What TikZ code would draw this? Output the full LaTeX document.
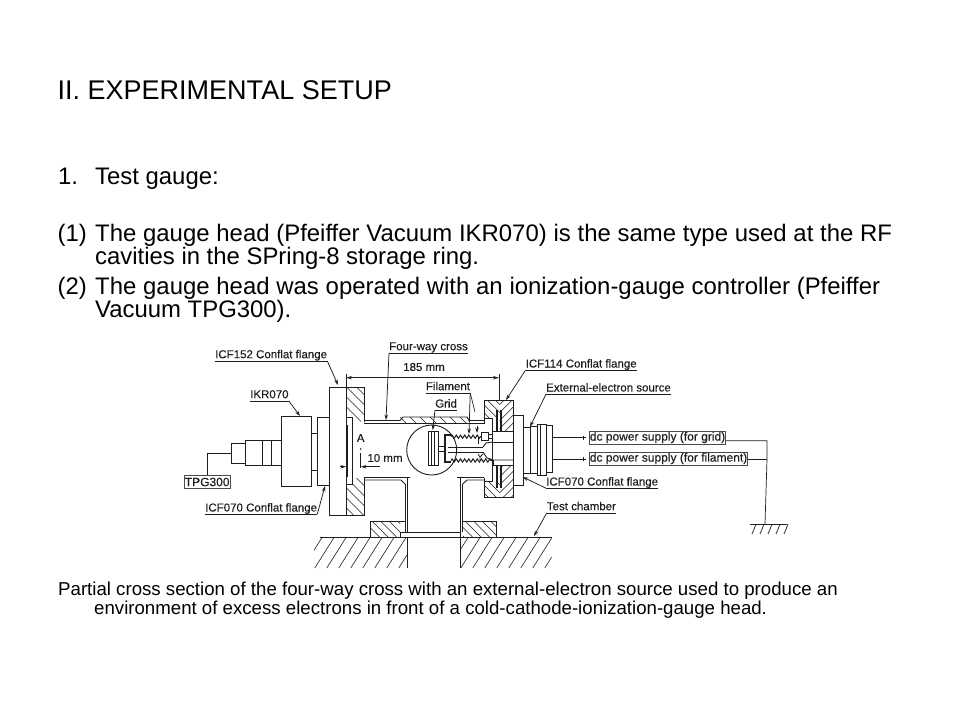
\documentclass[tikz,border=0pt]{standalone}
\usepackage{fontspec}
\setmainfont{Liberation Sans}
\newfontfamily\lblfont{Liberation Sans}[FakeBold=0.25]
\usetikzlibrary{decorations.pathmorphing,arrows.meta}
\definecolor{ink}{HTML}{1E1E1E}
% x1 y1 x2 y2 slope step
\newcommand{\hatchbox}[6]{%
  \begin{scope}\clip (#1,#2) rectangle (#3,#4);
  \foreach \k in {0,...,40} \draw[hline] ({#1-100+\k*#6},#2) -- ({#1-100+\k*#6+#5*(#4-#2)},#4);
  \end{scope}}
\tikzset{
  txt/.style={anchor=base west,inner sep=0pt,text=black},
  title/.style={txt,font=\fontsize{27}{30}\selectfont},
  body/.style={txt,font=\fontsize{23.9}{27}\selectfont},
  capt/.style={txt,font=\fontsize{18.65}{21}\selectfont},
  lbl/.style={anchor=base west,inner xsep=0pt,inner ysep=0pt,text depth=2.5pt,text=ink,font=\lblfont\fontsize{11.5}{13}\selectfont},
  plain/.style={anchor=center,inner sep=0pt,text=ink,font=\lblfont\fontsize{11.5}{13}\selectfont},
  sbox/.style={draw=ink!80,line width=.7pt,anchor=west,inner xsep=0.5pt,inner ysep=0pt,minimum height=13.3pt,text=ink,font=\lblfont\fontsize{12}{14}\selectfont},
  part/.style={draw=ink,line width=.9pt},
  hline/.style={draw=ink,line width=.6pt},
  uline/.style={draw=ink,line width=.8pt},
  leader/.style={draw=ink,line width=.75pt,-{Stealth[length=5.5pt,width=3.5pt]}},
  wire/.style={draw=ink,line width=.7pt},
}
\begin{document}
\begin{tikzpicture}[x=1pt,y=-1pt]
\useasboundingbox (0,0) rectangle (960,720);
\fill[white] (0,0) rectangle (960,720);
% ---- slide text
\node[title] (ttl) at (57.5,99) {II. EXPERIMENTAL SETUP};
\node[body] (t1n) at (58,184) {1.};
\node[body] (t1) at (95,184) {Test gauge:};
\node[body] (p1n) at (57.5,241.3) {(1)};
\node[body] (p1a) at (95,241.3) {\makebox[797pt][s]{The gauge head (Pfeiffer Vacuum IKR070) is the same type used at the RF}};
\node[body] (p1b) at (95,264.3) {cavities in the SPring-8 storage ring.};
\node[body] (p2n) at (57.5,294.7) {(2)};
\node[body] (p2a) at (95,294.7) {\makebox[785pt][s]{The gauge head was operated with an ionization-gauge controller (Pfeiffer}};
\node[body] (p2b) at (95,317.7) {Vacuum TPG300).};
\node[capt] (c1) at (58,595.7) {Partial cross section of the four-way cross with an external-electron source used to produce an};
\node[capt] (c2) at (94,614) {environment of excess electrons in front of a cold-cathode-ionization-gauge head.};
% ---- ground and base
\hatchbox{314}{537.5}{407}{568}{-0.63}{12}
\hatchbox{460}{537.5}{551.5}{568}{-0.63}{12}
\draw[part] (320,537.5) -- (407,537.5) -- (407,568);
\draw[part] (460,568) -- (460,537.5) -- (551.5,537.5);
\hatchbox{370}{521}{400}{537}{1}{8.5}
\hatchbox{463}{521}{496}{537}{1}{8.5}
\draw[part] (400,537) -- (370,537) -- (370,521) -- (405,521);
\draw[part] (463,521) -- (496,521) -- (496,537) -- (461,537);
\draw[part,fill=white] (400,537) -- (400,532) -- (460.7,532) -- (460.7,537) -- cycle;
% ---- lower tube
\draw[part] (405,484) -- (405,532) (407.7,478) -- (407.7,532);
\draw[part] (460,478) -- (460,532) (462.7,484) -- (462.7,532);
% ---- main tube
\draw[part] (364,420.5) -- (400,420.5) (364,423.5) -- (484,423.5);
\draw[part] (364,477.5) -- (410,477.5) (364,480) -- (401,480) -- (405,484);
\draw[part] (457,477.5) -- (484,477.5) (467,480) -- (484,480) (467,480) -- (462.7,484);
\hatchbox{400}{417}{467}{423.5}{1}{10}
\draw[part] (400,420.5) -- (403,417) -- (467,417) -- (469,420.5) -- (484,420.5);
% ---- left flange
\draw[part,fill=white] (329,387) rectangle (346,515);
\hatchbox{346.5}{387}{364}{421.5}{1}{10}
\hatchbox{346.5}{478}{364}{515}{1}{10}
\draw[part] (346.5,387) -- (364,387) -- (364,421.5) (364,478) -- (364,515) -- (346.5,515);
\draw[part,fill=white] (346.5,417) rectangle (352.3,484);
\draw[draw=ink,line width=1.6pt] (347,425) -- (347,477);
% ---- gauge body
\draw[part] (231,443) rectangle (245.7,463);
\draw[part] (245.7,440) rectangle (281,465);
\draw[part] (262,440) -- (262,465) (271.7,440) -- (271.7,465);
\draw[part] (281,416.7) rectangle (311,486);
\draw[part] (311,433) rectangle (317,470.7);
\draw[part] (317,417) rectangle (329,485);
% ---- right flange
\hatchbox{484}{400.7}{499.5}{418}{1}{8}
\hatchbox{499.5}{400.7}{513.3}{431}{-1}{8}
\hatchbox{484}{481}{499.5}{497.7}{1}{8}
\hatchbox{499.5}{465}{513.3}{497.7}{-1}{8}
\draw[part] (484,423.5) -- (484,400.7) -- (513.3,400.7) -- (513.3,497.7) -- (484,497.7) -- (484,477.5);
\draw[part] (484,418) -- (492,418) -- (492,481) -- (484,481);
\draw[draw=ink,line width=1.2pt] (497,410) -- (497,431) (501,410) -- (501,431);
\draw[draw=ink,line width=1.2pt] (497,465) -- (497,488) (501,465) -- (501,488);
\draw[part,fill=white] (492.7,431) rectangle (513.3,442);
\draw[part] (492,465) -- (513.3,465);
\draw[part] (483,447) -- (486,443) -- (492,442) (483,452) -- (487,458) -- (493,460) -- (513.3,460);
\draw[part] (493,460) -- (493,465);
% ---- feed-through and source
\draw[part] (513.3,415) rectangle (523,485);
\draw[part] (523,427) rectangle (530.7,473);
\draw[part] (530.7,426) rectangle (537,473.5);
\draw[part] (537,424) rectangle (546,475);
\draw[part] (546,425) rectangle (552.3,472);
\draw[part] (540,424) -- (540,475);
% ---- detail circle, grid and filament
\draw[part] (431.7,450) circle (25);
\fill[white] (441,436) rectangle (452,464);
\draw[part,fill=white] (428,431.7) rectangle (438,465);
\draw[part] (431.5,431.7) -- (431.5,465) (434.5,431.7) -- (434.5,465);
\draw[part] (438,446.5) -- (445,446.5) (438,451.5) -- (445,451.5);
\draw[draw=ink,line width=1.3pt] (451,435) -- (445,435) -- (445,462) -- (451,462);
\draw[draw=ink,line width=1pt] (448,447) -- (483,447) (448,452) -- (483,452);
\draw[draw=ink,line width=1pt,decorate,decoration={zigzag,amplitude=1.6pt,segment length=4.2pt}] (451,436.7) -- (481.7,436.7);
\draw[draw=ink,line width=1pt,decorate,decoration={zigzag,amplitude=1.6pt,segment length=4.2pt}] (451,460.5) -- (492,460.5);
\draw[part,fill=white] (481.7,432.5) rectangle (488,440);
\draw[part] (488,434) -- (492.7,434) (488,438) -- (492.7,438);
\draw[draw=ink,line width=.8pt] (478,454) -- (480,457) -- (483,454) (480,457) -- (480,460);
% ---- dimensions
\coordinate (d185a) at (346,377.7);
\coordinate (d185b) at (499,377.7);
\draw[draw=ink,line width=.7pt,{Stealth[length=6pt,width=3.5pt,open]}-{Stealth[length=6pt,width=3.5pt,open]}] (d185a) -- (d185b);
\draw[draw=ink,line width=.7pt] (346,374) -- (346,387) (499,374) -- (499,401);
\node[plain] (d185) at (424,367) {185 mm};
\node[plain] (ptA) at (360.7,438) {A};
\fill[ink] (360.7,449) circle (.9);
\draw[draw=ink,line width=.7pt] (360.7,453) -- (360.7,468);
\draw[leader] (340,466.7) -- (346,466.7);
\draw[leader] (380,466.7) -- (361,466.7);
\node[plain] (d10) at (385,458) {10 mm};
% ---- labels
\node[lbl] (l152) at (215,358.2) {ICF152 Conflat flange};
\draw[uline] (l152.south west) -- (l152.south east);
\coordinate (c152) at (338,385);
\draw[leader] (l152.south east) -- (c152);
\node[lbl] (likr) at (250,398.2) {IKR070};
\draw[uline] (likr.south west) -- (likr.south east);
\coordinate (cikr) at (300,416);
\draw[leader] (likr.south east) -- (cikr);
\node[sbox] (ltpg) at (184,482) {TPG300};
\coordinate (ctpg) at (231,453.3);
\draw[wire] (ltpg.north) -- (ltpg.north |- ctpg) -- (ctpg);
\node[lbl] (l070) at (205,511.5) {ICF070 Conflat flange};
\draw[uline] (l070.south west) -- (l070.south east);
\coordinate (c070) at (325,486);
\draw[leader] (l070.south east) -- (c070);
\node[lbl] (lfour) at (389,350.2) {Four-way cross};
\draw[uline] (lfour.south west) -- (lfour.south east);
\coordinate (cfour) at (386,420);
\draw[leader] (lfour.south west) -- (cfour);
\node[lbl] (lfil) at (425.7,390.2) {Filament};
\draw[uline] (lfil.south west) -- (lfil.south east);
\coordinate (cfila) at (469,434);
\draw[leader] (lfil.south east) -- (cfila);
\coordinate (cfilb) at (475,412);
\draw[wire] (lfil.south east) -- (cfilb);
\coordinate (cfilc) at (477,426);
\coordinate (cfild) at (477,433);
\draw[leader] (cfilc) -- (cfild);
\draw[wire] (478,438) -- (478,444);
\node[lbl] (lgrid) at (435,407.5) {Grid};
\draw[uline] (lgrid.south west) -- (lgrid.south east);
\coordinate (cgrid) at (432.7,430);
\draw[leader] (lgrid.south west) -- (cgrid);
\node[lbl] (l114) at (525.5,367.5) {ICF114 Conflat flange};
\draw[uline] (l114.south west) -- (l114.south east);
\coordinate (c114) at (506,400);
\draw[leader] (l114.south west) -- (c114);
\node[lbl] (lext) at (546,391.5) {External-electron source};
\draw[uline] (lext.south west) -- (lext.south east);
\coordinate (cext) at (530,426.7);
\draw[leader] (lext.south west) -- (cext);
\node[lbl] (l070r) at (546,485.5) {ICF070 Conflat flange};
\draw[uline] (l070r.south west) -- (l070r.south east);
\coordinate (c070r) at (522.7,477);
\draw[leader] (l070r.south west) -- (c070r);
\node[lbl] (ltest) at (546.7,510.2) {Test chamber};
\draw[uline] (ltest.south west) -- (ltest.south east);
\coordinate (ctest) at (534,536);
\draw[leader] (ltest.south west) -- (ctest);
% ---- power supplies
\node[sbox] (pgrid) at (589,437.5) {dc power supply (for grid)};
\node[sbox] (pfil) at (589,458.5) {dc power supply (for filament)};
\coordinate (wg) at (552.3,437.7);
\coordinate (wf) at (552.3,459);
\draw[wire] (wg) -- (586,437.7) (583,435.7) -- (583,439.7);
\draw[wire] (wf) -- (586,459) (583,457) -- (583,461);
\coordinate (jg) at (767,440.7);
\coordinate (jf) at (767,459);
\coordinate (gnd) at (765,524.3);
\draw[wire] (pgrid.east |- jg) -- (jg) -- (jf) -- (gnd);
\draw[wire] (pfil.east |- jf) -- (jf);
\draw[wire] (750,524.3) -- (786.7,524.3);
\foreach \gx in {756,764,772,780,788} \draw[wire] (\gx,524.3) -- (\gx-4,534);
\end{tikzpicture}
\end{document}
